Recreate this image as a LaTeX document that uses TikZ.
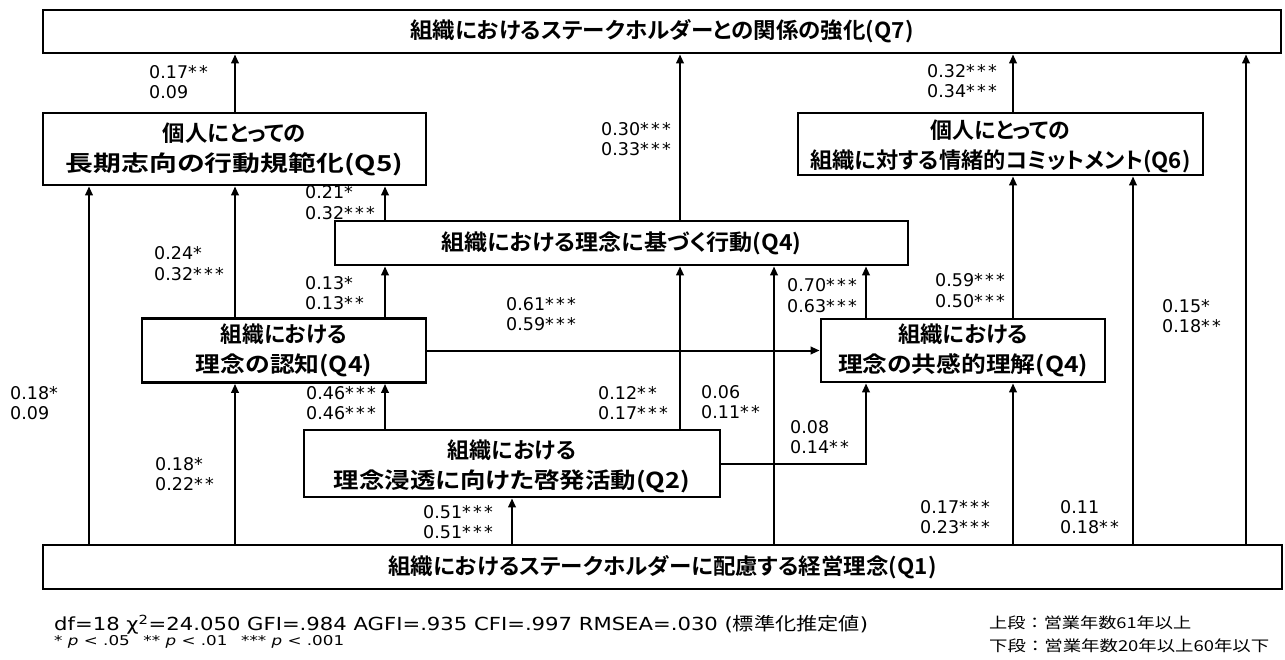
\documentclass[tikz,border=0pt]{standalone}
\usepackage{fontspec}
\usepackage{graphicx}
\setmainfont{DejaVu Sans}
\newfontfamily\jpb{Noto Sans CJK JP Bold}[RawFeature=+palt]
\newfontfamily\jpn{Noto Sans CJK JP}
\usetikzlibrary{arrows.meta}
\newcommand{\fw}[2]{\resizebox{#1pt}{\height}{#2}}
\newcommand{\astA}{*\kern2.2pt}
\newcommand{\astB}{\astA\astA}
\newcommand{\astC}{\astA\astA\astA}
\newcommand{\lowtext}[2]{\raisebox{-4pt}[\height][\depth]{\begin{tabular}{@{}c@{}}#1\\#2\end{tabular}}}
\tikzset{
  box/.style={draw, line width=2.8pt, inner sep=0pt, align=center,
    font=\jpb\fontsize{22}{30}\selectfont},
  arr/.style={line width=2pt, -{Triangle[length=9pt,width=7.5pt]}},
  lbl/.style={anchor=west, align=left, inner sep=0pt,
    font=\fontsize{17.5}{20.5}\selectfont},
}
\begin{document}
\begin{tikzpicture}[x=1pt,y=-1pt]
\useasboundingbox (0,0) rectangle (1285,660);
\fill[white] (0,0) rectangle (1285,660);
% boxes
\node[box, minimum width=1238pt, minimum height=43pt] (q7) at (662,31.5) {\fw{503}{組織におけるステークホルダーとの関係の強化(Q7)}};
\node[box, minimum width=383pt, minimum height=72pt] (q5) at (234.5,149) {\fw{143}{個人にとっての}\\\fw{337}{長期志向の行動規範化(Q5)}};
\node[box, minimum width=405pt, minimum height=62pt] (q6) at (1000.5,144) {\lowtext{\fw{140}{個人にとっての}}{\fw{380}{組織に対する情緒的コミットメント(Q6)}}};
\node[box, minimum width=573pt, minimum height=44pt] (q4b) at (621.5,243) {\fw{360}{組織における理念に基づく行動(Q4)}};
\node[box, minimum width=284pt, minimum height=64pt] (q4r) at (284,350.5) {\fw{126}{組織における}\\\fw{176}{理念の認知(Q4)}};
\node[box, minimum width=284pt, minimum height=63pt] (q4e) at (963,350.5) {\fw{130}{組織における}\\\fw{250}{理念の共感的理解(Q4)}};
\node[box, minimum width=416pt, minimum height=67pt] (q2) at (512,463.5) {\lowtext{\fw{128}{組織における}}{\fw{356}{理念浸透に向けた啓発活動(Q2)}}};
\node[box, minimum width=1239pt, minimum height=44pt] (q1) at (662.5,567) {\fw{548}{組織におけるステークホルダーに配慮する経営理念(Q1)}};
% x positions of vertical connectors
\coordinate (v089) at (89,0);
\coordinate (v235) at (235,0);
\coordinate (v385) at (385,0);
\coordinate (v512) at (512,0);
\coordinate (v680) at (680,0);
\coordinate (v774) at (774,0);
\coordinate (v866) at (866,0);
\coordinate (v1013) at (1013,0);
\coordinate (v1133) at (1133,0);
\coordinate (v1246) at (1246,0);
% connectors
\draw[arr] (q5.north -| v235) -- (q7.south -| v235);
\draw[arr] (q4b.north -| v680) -- (q7.south -| v680);
\draw[arr] (q6.north -| v1013) -- (q7.south -| v1013);
\draw[arr] (q1.north -| v1246) -- (q7.south -| v1246);
\draw[arr] (q1.north -| v089) -- (q5.south -| v089);
\draw[arr] (q4r.north -| v235) -- (q5.south -| v235);
\draw[arr] (q4b.north -| v385) -- (q5.south -| v385);
\draw[arr] (q4r.north -| v385) -- (q4b.south -| v385);
\draw[arr] (q2.north -| v680) -- (q4b.south -| v680);
\draw[arr] (q1.north -| v774) -- (q4b.south -| v774);
\draw[arr] (q4e.north -| v866) -- (q4b.south -| v866);
\draw[arr] (q4r.east) -- (q4e.west);
\draw[arr] (q4e.north -| v1013) -- (q6.south -| v1013);
\draw[arr] (q1.north -| v1133) -- (q6.south -| v1133);
\draw[arr] (q1.north -| v235) -- (q4r.south -| v235);
\draw[arr] (q2.north -| v385) -- (q4r.south -| v385);
\draw[arr] (q1.north -| v512) -- (q2.south -| v512);
\draw[arr] (q2.east) -| (q4e.south -| v866);
\draw[arr] (q1.north -| v1013) -- (q4e.south -| v1013);
% coefficient labels
\node[lbl] (l1) at (149,82) {0.17\astB\\0.09};
\node[lbl] (l2) at (601,139) {0.30\astC\\0.33\astC};
\node[lbl] (l3) at (927,81) {0.32\astC\\0.34\astC};
\node[lbl] (l4) at (305,202.5) {0.21\astA\\0.32\astC};
\node[lbl] (l5) at (154,263.5) {0.24\astA\\0.32\astC};
\node[lbl] (l6) at (305,293) {0.13\astA\\0.13\astB};
\node[lbl] (l7) at (506,314) {0.61\astC\\0.59\astC};
\node[lbl] (l8) at (787,295.5) {0.70\astC\\0.63\astC};
\node[lbl] (l9) at (935,290.5) {0.59\astC\\0.50\astC};
\node[lbl] (l10) at (1162,316) {0.15\astA\\0.18\astB};
\node[lbl] (l11) at (10,403) {0.18\astA\\0.09};
\node[lbl] (l12) at (306,403) {0.46\astC\\0.46\astC};
\node[lbl] (l13) at (598,403) {0.12\astB\\0.17\astC};
\node[lbl] (l14) at (701,402) {0.06\\0.11\astB};
\node[lbl] (l15) at (790,437) {0.08\\0.14\astB};
\node[lbl] (l16) at (155,474) {0.18\astA\\0.22\astB};
\node[lbl] (l17) at (423,522) {0.51\astC\\0.51\astC};
\node[lbl] (l18) at (920,517) {0.17\astC\\0.23\astC};
\node[lbl] (l19) at (1060,517) {0.11\\0.18\astB};
% footnotes
\node[anchor=west, inner sep=0pt, font=\fontsize{18}{20}\selectfont] (fn1) at (54,625) {\fw{814}{df=18 χ\textsuperscript{2}=24.050 GFI=.984 AGFI=.935 CFI=.997 RMSEA=.030 ({\jpn 標準化推定値})}};
\node[anchor=west, inner sep=0pt, font=\fontsize{13.5}{16}\selectfont] (fn2) at (54,642) {\fw{290}{* \textit{p} < .05\enspace\ ** \textit{p} < .01\enspace\ *** \textit{p} < .001}};
\node[anchor=west, align=left, inner sep=0pt, font=\jpn\fontsize{15}{23}\selectfont] (leg) at (989,634.5) {\fw{202}{上段：営業年数61年以上}\\\fw{280}{下段：営業年数20年以上60年以下}};
\end{tikzpicture}
\end{document}
